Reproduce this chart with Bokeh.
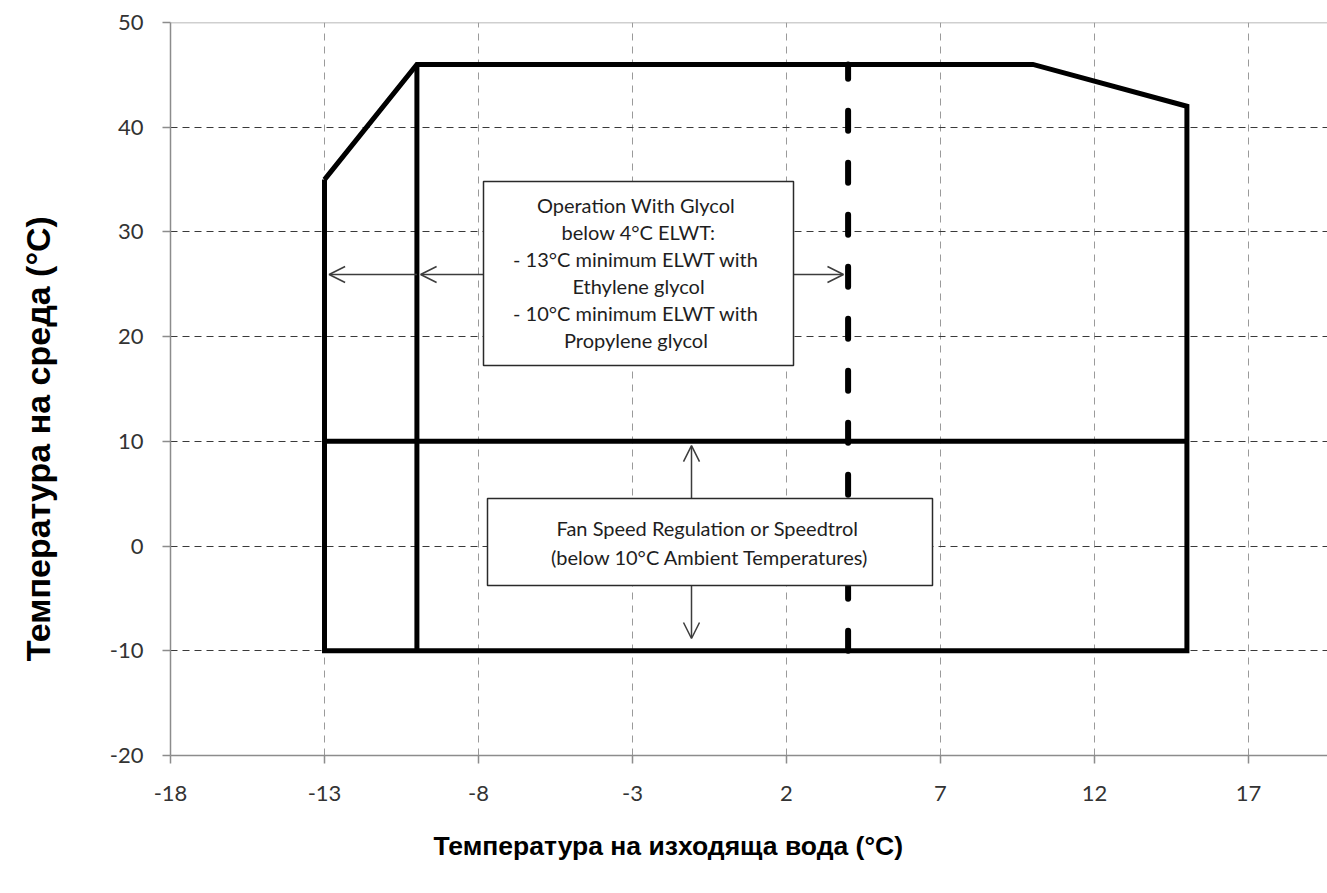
import math
from bokeh.plotting import figure
from bokeh.layouts import row
from bokeh.core.properties import value
from bokeh.models import (Range1d, FixedTicker, Span, BoxAnnotation, Label, Arrow, OpenHead, Title)
from bokeh.embed import file_html
from bokeh.resources import INLINE

# ---- data ----
x_ticks = [-18, -13, -8, -3, 2, 7, 12, 17]
y_ticks = [-20, -10, 0, 10, 20, 30, 40, 50]

envelope_x = [-13, -10, 10, 15, 15, -13, -13]
envelope_y = [35, 46, 46, 42, -10, -10, 35]
glycol_line_x = [-10, -10]
glycol_line_y = [-10, 46]
fan_line_x = [-13, 15]
fan_line_y = [10, 10]
elwt_line_x = [4, 4]
elwt_line_y = [-10, 46]

glycol_text = ["Operation  With Glycol", "below 4°C ELWT:", "- 13°C minimum  ELWT with",
               "Ethylene glycol", "- 10°C minimum  ELWT with", "Propylene  glycol"]
fan_text = ["Fan Speed  Regulation or Speedtrol", "(below 10°C Ambient Temperatures)"]
x_label = "Температура на изходяща вода (°C)"
y_label = "Температура на среда (°C)"

# ---- geometry ----
W, H = 1327, 893
LW = 100            # width of the strip holding the vertical axis title
BL, BT = 170, 22    # frame left / top in page px
FB = 755            # frame bottom in page px
BB = H - FB
X0 = -18
Y0, Y1 = -20, 50
sx = 30.8
X1 = X0 + (W - BL) / sx
fh = FB - BT
sy = fh / (Y1 - Y0)

def dx(px):  # page px -> data x
    return X0 + (px - BL) / sx

def dy(py):  # page py -> data y
    return Y1 - (py - BT) / sy

# ---- strip with the y-axis title ----
side = figure(width=LW, height=H, output_backend="svg", toolbar_location=None,
              x_range=Range1d(0, LW), y_range=Range1d(0, H),
              x_axis_type=None, y_axis_type=None, min_border=0)
side.outline_line_color = None
side.grid.visible = False
side.text(x=[37], y=[H - 507], text=[y_label], angle=math.pi / 2, text_align="center",
          text_baseline="middle", text_font=value("Liberation Sans"), text_font_style="bold",
          text_font_size="34px", text_color="black")

# ---- main chart ----
p = figure(width=W - LW, height=H, output_backend="svg", toolbar_location=None,
           x_range=Range1d(X0, X1), y_range=Range1d(Y0, Y1),
           min_border_left=BL - LW, min_border_top=BT, min_border_bottom=BB, min_border_right=0)
p.outline_line_color = None
p.background_fill_color = "white"

for ax in (p.xaxis[0], p.yaxis[0]):
    ax.axis_line_color = "#8c8c8c"
    ax.axis_line_width = 1.5
    ax.major_tick_line_color = "#8c8c8c"
    ax.major_tick_line_width = 1.5
    ax.major_tick_in = 0
    ax.minor_tick_line_color = None
    ax.major_label_text_font = "Lato"
    ax.major_label_text_font_size = "22px"
    ax.major_label_text_color = "#333333"

p.xaxis[0].ticker = FixedTicker(ticks=x_ticks)
p.yaxis[0].ticker = FixedTicker(ticks=y_ticks)
p.xaxis[0].major_label_overrides = {t: str(t) for t in x_ticks}
p.yaxis[0].major_label_overrides = {t: str(t) for t in y_ticks}
p.xaxis[0].major_tick_out = 8
p.xaxis[0].major_label_standoff = 22
p.yaxis[0].major_tick_out = 8
p.yaxis[0].major_label_standoff = 19

p.xgrid.grid_line_color = "#9a9a9a"
p.xgrid.grid_line_dash = "7 6"
p.xgrid.grid_line_width = 1
p.ygrid.grid_line_color = "#3a3a3a"
p.ygrid.grid_line_dash = "7 5"
p.ygrid.grid_line_width = 1
p.ygrid.ticker = FixedTicker(ticks=y_ticks[1:-1])
p.xgrid.ticker = FixedTicker(ticks=x_ticks[1:])

p.add_layout(Span(location=Y1, dimension="width", line_color="#a0a0a0", line_width=1.5))

# ---- envelope lines ----
p.line(envelope_x, envelope_y, line_color="black", line_width=5, line_join="miter")
p.line(glycol_line_x, glycol_line_y, line_color="black", line_width=5)
p.line(fan_line_x, fan_line_y, line_color="black", line_width=5)
p.line(elwt_line_x, elwt_line_y, line_color="black", line_width=6, line_dash="20 32", line_cap="round")

# ---- annotation boxes ----
g_left, g_right, g_top, g_bot = dx(483), dx(793), dy(181), dy(365)
f_left, f_right, f_top, f_bot = dx(487), dx(932), dy(498), dy(585)

arrow_kw = dict(line_color="#3c3c3c", line_width=1.5)
def head():
    return OpenHead(size=16, line_color="#3c3c3c", line_width=1.5)
ay = dy(274)
p.add_layout(Arrow(end=head(), x_start=g_left, y_start=ay, x_end=glycol_line_x[0] + 0.12, y_end=ay, **arrow_kw))
p.add_layout(Arrow(end=head(), x_start=glycol_line_x[0], y_start=ay, x_end=envelope_x[0] + 0.15, y_end=ay, **arrow_kw))
p.add_layout(Arrow(end=head(), x_start=g_right, y_start=ay, x_end=elwt_line_x[0] - 0.15, y_end=ay, **arrow_kw))
axp = dx(691)
p.add_layout(Arrow(end=head(), x_start=axp, y_start=f_top, x_end=axp, y_end=fan_line_y[0] - 0.4, **arrow_kw))
p.add_layout(Arrow(end=head(), x_start=axp, y_start=f_bot, x_end=axp, y_end=dy(638), **arrow_kw))

box_kw = dict(fill_color="white", fill_alpha=1, line_color="#2a2a2a", line_alpha=1, line_width=1.5)
p.add_layout(BoxAnnotation(left=g_left, right=g_right, top=g_top, bottom=g_bot, **box_kw))
p.add_layout(BoxAnnotation(left=f_left, right=f_right, top=f_top, bottom=f_bot, **box_kw))

gcx = (g_left + g_right) / 2
for i, t in enumerate(glycol_text):
    p.add_layout(Label(x=gcx, y=dy(204 + i * 27), text=t, text_align="center", text_baseline="middle",
                       text_font="Lato", text_font_size="20px", text_color="#1e1e1e"))
fcx = (f_left + f_right) / 2
for i, t in enumerate(fan_text):
    p.add_layout(Label(x=fcx, y=dy(527 + i * 29), text=t, text_align="center", text_baseline="middle",
                       text_font="Lato", text_font_size="20px", text_color="#1e1e1e"))

# x-axis title
p.add_layout(Title(text=x_label, align="left", offset=263, standoff=50, vertical_align="bottom",
                   text_font="Liberation Sans", text_font_style="bold", text_font_size="26.5px",
                   text_color="black"), "below")

layout = row(side, p, spacing=0)
open("out.html", "w").write(file_html(layout, INLINE))
